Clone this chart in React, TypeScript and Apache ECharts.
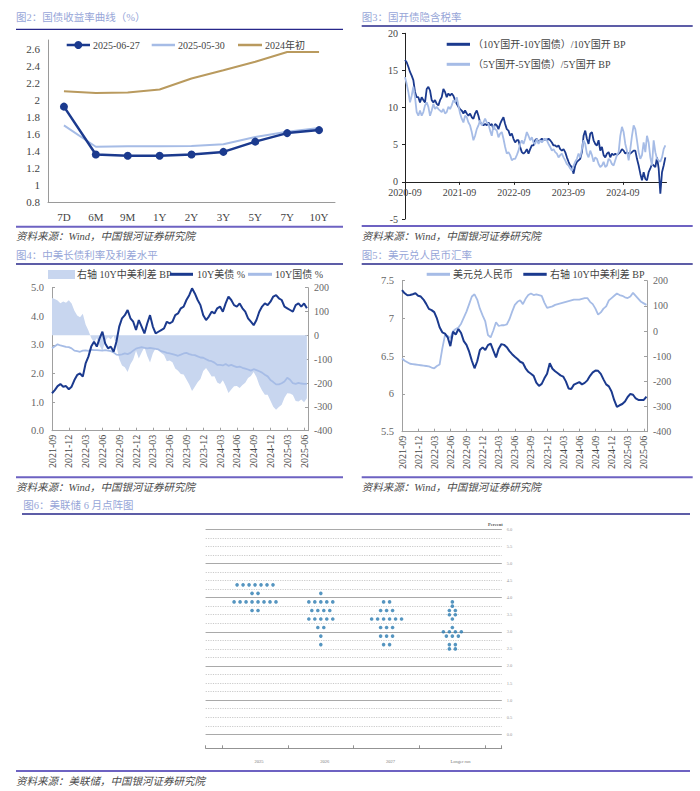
import { useEffect, useRef } from "react";
import * as echarts from "echarts";

// ---------- Panel 1: yield curve ----------
const CURVE_TENORS = ["7D", "6M", "9M", "1Y", "2Y", "3Y", "5Y", "7Y", "10Y"];
const CURVE_20250627 = [1.92, 1.36, 1.345, 1.345, 1.36, 1.39, 1.51, 1.61, 1.645];
const CURVE_20250530 = [1.7, 1.45, 1.455, 1.455, 1.46, 1.48, 1.565, 1.625, 1.67];
const CURVE_2024START = [2.1, 2.08, 2.085, 2.12, 2.25, 2.345, 2.445, 2.56, 2.56];
const CURVE_Y_TICKS = [0.8, 1, 1.2, 1.4, 1.6, 1.8, 2, 2.2, 2.4, 2.6];

// ---------- Panel 2: implied tax rate (start 2020-09, one sample every P3_STEP months) ----------
const P3_STEP = 0.3676;
const P3_TICK_MONTHS = [0, 12, 24, 36, 48];
const P3_10Y = [
  16.4, 16.1, 15.5, 14.8, 14.3, 13.7, 12.1, 11.4, 11.4, 10.7,
  11.4, 11.0, 10.7, 12.5, 12.8, 12.3, 11.0, 10.7, 11.0, 10.5,
  10.3, 11.0, 11.4, 12.5, 12.1, 11.4, 11.9, 11.6, 11.9, 11.6,
  11.0, 10.5, 10.1, 9.8, 9.6, 9.2, 9.6, 9.2, 8.9, 9.2,
  8.7, 8.5, 9.2, 9.6, 8.9, 8.0, 7.8, 7.6, 7.8, 7.6,
  8.0, 7.6, 7.8, 7.1, 7.8, 7.6, 7.1, 7.8, 8.3, 8.7,
  7.8, 7.1, 6.9, 6.2, 6.5, 5.8, 5.3, 5.6, 5.6, 4.7,
  4.0, 3.8, 4.0, 4.4, 3.8, 4.4, 4.9, 4.9, 5.6, 5.8,
  5.3, 5.6, 5.8, 5.6, 5.8, 5.6, 5.8, 5.6, 5.3, 4.9,
  4.9, 4.7, 4.9, 4.4, 4.2, 4.4, 4.0, 3.3, 2.7, 2.2,
  2.0, 1.1, 2.2, 2.7, 2.9, 3.1, 4.0, 6.2, 6.9, 5.8,
  5.1, 6.5, 6.7, 5.6, 5.1, 4.9, 5.6, 4.2, 4.7, 3.6,
  3.3, 3.8, 4.0, 3.3, 3.8, 3.6, 3.8, 3.6, 3.8, 4.0,
  4.4, 4.2, 3.8, 4.0, 3.8, 3.8, 4.0, 4.2, 4.2, 3.1,
  2.2, 1.1, 0.2, 1.3, 0.4, 0.2, 1.3, 1.8, 2.4, 2.2,
  2.0, 3.3, 1.8, -1.6, 1.3, 2.2, 3.3,
];
const P3_5Y = [
  14.1, 13.2, 12.1, 10.7, 11.6, 12.8, 11.4, 9.4, 8.9, 9.6,
  8.9, 9.4, 10.3, 10.7, 10.1, 8.9, 9.6, 10.5, 9.8, 10.1,
  9.8, 9.6, 9.4, 9.8, 9.2, 9.4, 10.1, 9.8, 10.3, 11.0,
  10.7, 11.4, 10.3, 9.2, 8.5, 8.0, 8.9, 8.7, 8.0, 7.6,
  6.7, 5.6, 6.2, 7.1, 7.6, 8.3, 7.6, 8.0, 8.5, 8.0,
  7.8, 6.9, 6.2, 7.6, 7.1, 6.9, 6.0, 6.5, 6.7, 5.8,
  4.7, 3.8, 4.0, 3.6, 2.9, 3.1, 3.1, 3.6, 4.2, 5.1,
  5.6, 5.1, 5.8, 6.7, 6.2, 5.6, 6.0, 5.3, 5.1, 5.8,
  5.1, 5.6, 5.3, 5.6, 5.8, 5.6, 5.1, 4.7, 4.2, 4.4,
  4.0, 3.8, 3.3, 3.6, 3.8, 3.3, 2.9, 2.4, 2.2, 1.8,
  1.5, 2.2, 2.7, 3.1, 3.8, 3.3, 4.4, 5.6, 5.1, 3.8,
  3.3, 4.2, 3.6, 2.7, 3.3, 3.1, 2.4, 2.0, 2.2, 2.7,
  2.0, 2.2, 3.1, 2.9, 2.4, 2.2, 2.9, 3.6, 4.0, 6.2,
  7.4, 6.7, 5.1, 4.2, 2.9, 4.4, 6.2, 7.6, 7.1, 5.6,
  4.0, 3.1, 3.6, 5.3, 4.0, 6.2, 5.3, 3.3, 2.2, 5.6,
  4.0, 3.1, 2.9, 2.7, 3.3, 4.4, 4.9,
];

// ---------- Panels 3 & 4: start 2021-09, one sample every half month ----------
const HALF_MONTH = 0.5;
const QUARTER_TICKS = [0, 3, 6, 9, 12, 15, 18, 21, 24, 27, 30, 33, 36, 39, 42, 45];
const P4_US10Y = [
  1.31, 1.42, 1.56, 1.63, 1.54, 1.56, 1.45, 1.54, 1.77, 1.95,
  2.0, 1.89, 2.35, 2.59, 2.94, 3.11, 2.94, 3.23, 3.46, 3.05,
  2.88, 2.94, 2.76, 3.11, 3.64, 3.93, 4.04, 4.22, 3.93, 3.81,
  3.52, 3.87, 3.64, 3.4, 3.75, 4.04, 3.64, 3.4, 3.46, 3.52,
  3.58, 3.81, 3.75, 3.81, 4.04, 4.1, 4.28, 4.34, 4.57, 4.74,
  4.98, 4.8, 4.57, 4.39, 4.04, 3.87, 3.99, 4.16, 4.1, 4.28,
  4.34, 4.16, 4.45, 4.69, 4.57, 4.39, 4.34, 4.45, 4.28, 4.16,
  3.93, 3.81, 3.69, 3.87, 4.16, 4.34, 4.45, 4.39, 4.51, 4.69,
  4.74, 4.63, 4.57, 4.34, 4.28, 4.22, 4.16, 4.39, 4.45, 4.34,
  4.45, 4.28,
];
const P4_CN10Y = [
  2.88, 2.95, 3.02, 2.98, 2.96, 2.93, 2.92, 2.88, 2.8, 2.78,
  2.76, 2.8, 2.81, 2.79, 2.83, 2.82, 2.82, 2.81, 2.8, 2.82,
  2.8, 2.78, 2.74, 2.66, 2.65, 2.67, 2.7, 2.68, 2.72, 2.8,
  2.87, 2.9, 2.92, 2.9, 2.88, 2.9, 2.88, 2.86, 2.84, 2.78,
  2.76, 2.72, 2.7, 2.68, 2.65, 2.62, 2.66, 2.7, 2.72, 2.68,
  2.65, 2.64, 2.6, 2.56, 2.55, 2.5, 2.45, 2.43, 2.38, 2.3,
  2.3, 2.28, 2.33, 2.27, 2.3, 2.26, 2.22, 2.24, 2.2, 2.17,
  2.14, 2.1, 2.15, 2.12, 2.08, 2.03, 1.96, 1.9, 1.77, 1.7,
  1.62, 1.62, 1.66, 1.72, 1.85, 1.78, 1.66, 1.64, 1.67, 1.65,
  1.64, 1.64,
];
const P4_SPREAD_BP = [
  157, 153, 146, 135, 142, 137, 147, 134, 103, 83,
  76, 91, 46, 20, -11, -29, -12, -42, -66, -23,
  -8, -16, -2, -45, -99, -126, -134, -154, -121, -101,
  -65, -97, -72, -50, -87, -114, -76, -54, -62, -74,
  -82, -109, -105, -113, -139, -148, -162, -164, -185, -206,
  -233, -216, -197, -183, -149, -137, -154, -173, -172, -198,
  -204, -188, -212, -242, -227, -213, -212, -221, -208, -199,
  -179, -171, -154, -175, -208, -231, -249, -249, -274, -299,
  -312, -301, -291, -262, -243, -244, -250, -275, -278, -269,
  -281, -264,
];
const P5_USDCNY = [
  6.47, 6.44, 6.42, 6.4, 6.395, 6.39, 6.385, 6.38, 6.375, 6.37,
  6.365, 6.35, 6.34, 6.37, 6.39, 6.6, 6.78, 6.77, 6.74, 6.83,
  6.86, 6.88, 6.93, 7.01, 7.09, 7.19, 7.29, 7.32, 7.25, 7.13,
  7.04, 6.96, 6.78, 6.75, 6.84, 6.95, 6.9, 6.91, 6.91, 6.92,
  6.99, 7.09, 7.18, 7.22, 7.24, 7.19, 7.26, 7.31, 7.33, 7.31,
  7.32, 7.31, 7.3, 7.21, 7.14, 7.15, 7.16, 7.18, 7.19, 7.2,
  7.21, 7.22, 7.23, 7.24, 7.25, 7.25, 7.25, 7.26, 7.27, 7.27,
  7.22, 7.19, 7.13, 7.05, 7.08, 7.13, 7.16, 7.24, 7.27, 7.3,
  7.33, 7.31, 7.3, 7.28, 7.27, 7.29, 7.34, 7.3, 7.26, 7.22,
  7.2, 7.18,
];
const P5_SPREAD_BP = [
  163, 150, 142, 143, 146, 150, 140, 137, 125, 108,
  88, 83, 75, 50, 15, -5, -10, -25, -60, -3,
  -14, 8, -8, -40, -55, -82, -118, -148, -120, -75,
  -65, -75, -56, -50, -78, -105, -70, -52, -55, -64,
  -80, -92, -102, -111, -122, -127, -148, -162, -170, -178,
  -205, -218, -210, -188, -170, -128, -150, -160, -168, -176,
  -181, -200, -228, -230, -213, -208, -203, -212, -206, -196,
  -178, -164, -157, -158, -170, -192, -212, -220, -240, -275,
  -301, -295, -290, -280, -262, -250, -253, -268, -274, -274,
  -274, -261,
];

// ---------- Panel 6: Fed dot plot, June 2025 ([rate, number of dots]) ----------
const DOT_COLUMNS = ["2025", "2026", "2027", "Longer run"];
const DOTS_2025 = [[4.375, 7], [4.125, 2], [3.875, 8], [3.625, 2]];
const DOTS_2026 = [[4.125, 1], [3.875, 5], [3.625, 4], [3.375, 5], [3.125, 2], [2.875, 1], [2.625, 1]];
const DOTS_2027 = [[3.875, 2], [3.625, 3], [3.375, 6], [3.125, 3], [2.875, 3], [2.625, 2]];
const DOTS_LONGER = [[3.875, 1], [3.75, 1], [3.625, 2], [3.5, 2], [3.375, 1], [3.125, 1], [3.0, 4], [2.875, 3], [2.625, 2], [2.5, 2]];
const DOT_Y_TICKS = [0, 0.5, 1, 1.5, 2, 2.5, 3, 3.5, 4, 4.5, 5, 5.5, 6];

// ---------- styles ----------
const DARK = "#1b3a8e";
const LIGHT = "#a6bce6";
const TAN = "#b99a5e";
const AREA = "#c8d6ef";
const DOT = "#2a7bb0";
const TITLE_C = "#97a6d8";
const RULE_TOP = "#27278a";
const RULE_BOTTOM = "#6d62c2";
const SERIF = '"Liberation Serif", "Noto Sans CJK SC", serif';

function monthLabel(startYear: number, startMonth: number) {
  return (m: number) => {
    const t = startYear * 12 + (startMonth - 1) + Math.round(m);
    const y = Math.floor(t / 12);
    const mo = (t % 12) + 1;
    return `${y}-${mo < 10 ? "0" + mo : mo}`;
  };
}

function txt(text: string, x: number, y: number, size: number, fill: string, extra: any = {}) {
  return {
    type: "text",
    x,
    y,
    silent: true,
    style: { text, fill, fontSize: size, fontFamily: SERIF, verticalAlign: "middle", align: "left", ...extra },
  };
}
function hline(x1: number, x2: number, y: number, stroke: string, w: number) {
  return { type: "line", silent: true, shape: { x1, y1: y, x2, y2: y }, style: { stroke, lineWidth: w } };
}

export default function App() {
  const ref = useRef<HTMLDivElement>(null);
  useEffect(() => {
    if (!ref.current) return;
    const chart = echarts.init(ref.current, null, { renderer: "svg" });

    const step = (arr: number[], s: number) => arr.map((v, i) => [i * s, v]);
    const dotData: number[][] = [];
    const DOT_SPACING = 0.091;
    [DOTS_2025, DOTS_2026, DOTS_2027, DOTS_LONGER].forEach((col, c) => {
      const center = 0.75 + c;
      col.forEach(([rate, n]) => {
        for (let j = 0; j < n; j++) dotData.push([center + (j - (n - 1) / 2) * DOT_SPACING, rate]);
      });
    });

    const lbl3 = monthLabel(2020, 9);
    const lbl45 = monthLabel(2021, 9);
    const axisText = { fontFamily: SERIF, color: "#444" };

    // panel 2 grid: y from -5 to 20; x axis drawn on the zero line
    const g1Top = 33.3;
    const g1Height = 185.7;
    const zeroOffset = -(g1Height * 5) / 25;

    const option: any = {
      animation: false,
      backgroundColor: "#ffffff",
      grid: [
        { left: 48, top: 40, width: 287, height: 162.3, outerBoundsMode: "none" },
        { left: 405, top: g1Top, width: 261.5, height: g1Height, outerBoundsMode: "none" },
        { left: 52, top: 287.7, width: 256, height: 143, outerBoundsMode: "none" },
        { left: 402, top: 280.7, width: 245, height: 151, outerBoundsMode: "none" },
        { left: 205.7, top: 529.3, width: 296, height: 205, outerBoundsMode: "none" },
      ],
      xAxis: [
        {
          gridIndex: 0, type: "category", data: CURVE_TENORS, boundaryGap: true,
          axisLine: { lineStyle: { color: "#9a9a9a" } },
          axisTick: { inside: true, length: 3, lineStyle: { color: "#9a9a9a" } },
          axisLabel: { ...axisText, fontSize: 11, margin: 9 },
        },
        {
          gridIndex: 1, type: "value", min: 0, max: 57.6, offset: zeroOffset,
          axisLine: { onZero: false, lineStyle: { color: "#222" } },
          axisTick: { customValues: P3_TICK_MONTHS, length: 3, lineStyle: { color: "#222" } },
          axisLabel: { ...axisText, customValues: P3_TICK_MONTHS, formatter: lbl3, fontSize: 10, margin: 6 },
          splitLine: { show: false },
        },
        {
          gridIndex: 2, type: "value", min: 0, max: 45.7,
          axisLine: { onZero: false, lineStyle: { color: "#a0a0a0" } },
          axisTick: { customValues: QUARTER_TICKS, inside: true, length: 3, lineStyle: { color: "#a0a0a0" } },
          axisLabel: { ...axisText, customValues: QUARTER_TICKS, formatter: lbl45, rotate: 90, fontSize: 10, margin: 4 },
          splitLine: { show: false },
        },
        {
          gridIndex: 3, type: "value", min: 0, max: 45.6,
          axisLine: { onZero: false, lineStyle: { color: "#a0a0a0" } },
          axisTick: { customValues: QUARTER_TICKS, inside: true, length: 3, lineStyle: { color: "#a0a0a0" } },
          axisLabel: { ...axisText, customValues: QUARTER_TICKS, formatter: lbl45, rotate: 90, fontSize: 10, margin: 4 },
          splitLine: { show: false },
        },
        {
          gridIndex: 4, type: "value", min: 0, max: 4.5, offset: 14,
          axisLine: { onZero: false, lineStyle: { color: "#777", width: 0.8 } },
          axisTick: { customValues: [0, 0.25, 1.25, 2.25, 3.25, 4.25, 4.5], inside: true, length: 3, lineStyle: { color: "#777", width: 0.8 } },
          axisLabel: {
            customValues: [0.74, 1.74, 2.74, 3.72],
            formatter: (v: number) => DOT_COLUMNS[Math.floor(v - 0.25)] ?? "",
            fontSize: 4.5, color: "#777", fontFamily: SERIF, margin: 11, align: "left",
          },
          splitLine: { show: false },
        },
      ],
      yAxis: [
        {
          gridIndex: 0, type: "value", min: 0.8, max: 2.7,
          axisLine: { show: true, lineStyle: { color: "#9a9a9a" } },
          axisTick: { show: false },
          axisLabel: { ...axisText, customValues: CURVE_Y_TICKS, fontSize: 11, margin: 8 },
          splitLine: { show: false },
        },
        {
          gridIndex: 1, type: "value", min: -5, max: 20, interval: 5,
          axisLine: { show: true, onZero: false, lineStyle: { color: "#222" } },
          axisTick: { show: true, length: 3, lineStyle: { color: "#222" } },
          axisLabel: { ...axisText, fontSize: 10, margin: 7 },
          splitLine: { show: false },
        },
        {
          gridIndex: 2, type: "value", min: 0, max: 5, interval: 1,
          axisLine: { show: true, lineStyle: { color: "#a0a0a0" } },
          axisTick: { show: true, inside: true, length: 3, lineStyle: { color: "#a0a0a0" } },
          axisLabel: { ...axisText, color: "#666", fontSize: 10.5, margin: 8, formatter: (v: number) => v.toFixed(1) },
          splitLine: { show: false },
        },
        {
          gridIndex: 2, type: "value", position: "right", min: -400, max: 200, interval: 100,
          axisLine: { show: true, lineStyle: { color: "#a0a0a0" } },
          axisTick: { show: true, inside: true, length: 3, lineStyle: { color: "#a0a0a0" } },
          axisLabel: { ...axisText, color: "#666", fontSize: 10, margin: 6 },
          splitLine: { show: false },
        },
        {
          gridIndex: 3, type: "value", min: 5.5, max: 7.5, interval: 0.5,
          axisLine: { show: true, lineStyle: { color: "#a0a0a0" } },
          axisTick: { show: true, inside: true, length: 3, lineStyle: { color: "#a0a0a0" } },
          axisLabel: { ...axisText, color: "#666", fontSize: 10.5, margin: 8 },
          splitLine: { show: false },
        },
        {
          gridIndex: 3, type: "value", position: "right", min: -400, max: 200, interval: 100,
          axisLine: { show: true, lineStyle: { color: "#a0a0a0" } },
          axisTick: { show: true, inside: true, length: 3, lineStyle: { color: "#a0a0a0" } },
          axisLabel: { ...axisText, color: "#666", fontSize: 10, margin: 6 },
          splitLine: { show: false },
        },
        {
          gridIndex: 4, type: "value", position: "right", min: 0, max: 6, interval: 0.25,
          axisLine: { show: false }, axisTick: { show: false },
          axisLabel: { customValues: DOT_Y_TICKS, formatter: (v: number) => v.toFixed(1), fontSize: 4.5, color: "#999", fontFamily: SERIF, margin: 5 },
          splitLine: { show: true, lineStyle: { color: "#bdbdbd", width: 0.8, type: [1.2, 1.2] } },
        },
        {
          gridIndex: 4, type: "value", position: "right", min: 0, max: 6, interval: 1,
          axisLine: { show: false }, axisTick: { show: false }, axisLabel: { show: false },
          splitLine: { show: true, lineStyle: { color: "#a9a9a9", width: 1.1 } },
        },
      ],
      series: [
        {
          type: "line", name: "2024年初", xAxisIndex: 0, yAxisIndex: 0, data: CURVE_2024START,
          symbol: "none", lineStyle: { color: TAN, width: 2 },
        },
        {
          type: "line", name: "2025-05-30", xAxisIndex: 0, yAxisIndex: 0, data: CURVE_20250530,
          symbol: "none", lineStyle: { color: LIGHT, width: 2 },
        },
        {
          type: "line", name: "2025-06-27", xAxisIndex: 0, yAxisIndex: 0, data: CURVE_20250627,
          symbol: "circle", symbolSize: 8, itemStyle: { color: DARK }, lineStyle: { color: DARK, width: 2.5 },
        },
        {
          type: "line", name: "（10Y国开-10Y国债）/10Y国开 BP", xAxisIndex: 1, yAxisIndex: 1,
          data: step(P3_10Y, P3_STEP), symbol: "none", lineStyle: { color: DARK, width: 1.8 },
        },
        {
          type: "line", name: "（5Y国开-5Y国债）/5Y国开 BP", xAxisIndex: 1, yAxisIndex: 1,
          data: step(P3_5Y, P3_STEP), symbol: "none", lineStyle: { color: LIGHT, width: 1.8 },
        },
        {
          type: "line", name: "右轴 10Y中美利差 BP", xAxisIndex: 2, yAxisIndex: 3,
          data: step(P4_SPREAD_BP, HALF_MONTH), symbol: "none",
          lineStyle: { width: 0 }, itemStyle: { color: AREA }, areaStyle: { color: AREA, opacity: 1 },
        },
        {
          type: "line", name: "10Y国债 %", xAxisIndex: 2, yAxisIndex: 2,
          data: step(P4_CN10Y, HALF_MONTH), symbol: "none", lineStyle: { color: LIGHT, width: 1.8 },
        },
        {
          type: "line", name: "10Y美债 %", xAxisIndex: 2, yAxisIndex: 2,
          data: step(P4_US10Y, HALF_MONTH), symbol: "none", lineStyle: { color: DARK, width: 2 },
        },
        {
          type: "line", name: "美元兑人民币", xAxisIndex: 3, yAxisIndex: 4,
          data: step(P5_USDCNY, HALF_MONTH), symbol: "none", lineStyle: { color: LIGHT, width: 1.8 },
        },
        {
          type: "line", name: "右轴 10Y中美利差 BP ", xAxisIndex: 3, yAxisIndex: 5,
          data: step(P5_SPREAD_BP, HALF_MONTH), symbol: "none", lineStyle: { color: DARK, width: 2 },
        },
        {
          type: "scatter", name: "dots", xAxisIndex: 4, yAxisIndex: 6, data: dotData, clip: false,
          symbol: "circle", symbolSize: 3.6, itemStyle: { color: DOT },
          markLine: {
            silent: true, symbol: "none", label: { show: false },
            lineStyle: { color: "#7a7a7a", width: 0.9, type: [1, 1] },
            data: [[{ coord: [3.25, -0.41] }, { coord: [3.25, 6.08] }]],
          },
        },
      ],
      graphic: [
        // titles
        txt("图2：国债收益率曲线（%）", 16, 17.3, 10.5, TITLE_C),
        txt("图3：国开债隐含税率", 361.7, 17.3, 10.5, TITLE_C),
        txt("图4：中美长债利率及利差水平", 16, 255, 10.5, TITLE_C),
        txt("图5：美元兑人民币汇率", 361.7, 255, 10.5, TITLE_C),
        txt("图6：美联储 6 月点阵图", 23.3, 505.7, 10.5, TITLE_C),
        hline(16, 343, 29.3, RULE_TOP, 1.3),
        hline(361.7, 692.7, 26, RULE_TOP, 1.3),
        hline(16, 343, 264, RULE_TOP, 1.3),
        hline(361.7, 692.7, 264, RULE_TOP, 1.3),
        hline(22, 690, 514, RULE_TOP, 1.3),
        // footers
        hline(16, 343, 226.7, RULE_BOTTOM, 2),
        hline(361.7, 692.7, 226, RULE_BOTTOM, 2),
        hline(16, 343, 477.3, RULE_BOTTOM, 2),
        hline(361.7, 692.7, 477.3, RULE_BOTTOM, 2),
        hline(16, 690, 771, RULE_BOTTOM, 2),
        txt("资料来源：Wind，中国银河证券研究院", 16, 236.7, 10.5, "#4a4a4a", { fontStyle: "italic" }),
        txt("资料来源：Wind，中国银河证券研究院", 361.7, 236.7, 10.5, "#4a4a4a", { fontStyle: "italic" }),
        txt("资料来源：Wind，中国银河证券研究院", 16, 487.3, 10.5, "#4a4a4a", { fontStyle: "italic" }),
        txt("资料来源：Wind，中国银河证券研究院", 361.7, 487.3, 10.5, "#4a4a4a", { fontStyle: "italic" }),
        txt("资料来源：美联储，中国银河证券研究院", 16, 781, 10.5, "#4a4a4a", { fontStyle: "italic" }),
        // legend panel 1
        hline(66.7, 90, 45, DARK, 2.5),
        { type: "circle", silent: true, shape: { cx: 78.3, cy: 45, r: 4 }, style: { fill: DARK } },
        txt("2025-06-27", 93, 45, 10, "#444"),
        hline(151.7, 175, 45, LIGHT, 2.5),
        txt("2025-05-30", 178, 45, 10, "#444"),
        hline(238, 262, 45, TAN, 2.5),
        txt("2024年初", 265, 45, 10, "#444"),
        // legend panel 2
        hline(446.7, 470, 44.3, DARK, 3),
        txt("（10Y国开-10Y国债）/10Y国开 BP", 473, 44.3, 10, "#444"),
        hline(446.7, 470, 64.3, LIGHT, 3),
        txt("（5Y国开-5Y国债）/5Y国开 BP", 473, 64.3, 10, "#444"),
        // legend panel 3
        { type: "rect", silent: true, shape: { x: 48, y: 270, width: 27, height: 9 }, style: { fill: AREA } },
        txt("右轴 10Y中美利差 BP", 77, 274.3, 10, "#444"),
        hline(170, 193, 274.3, DARK, 3),
        txt("10Y美债 %", 197, 274.3, 10, "#444"),
        hline(248, 272, 274.3, LIGHT, 3),
        txt("10Y国债 %", 275, 274.3, 10, "#444"),
        // legend panel 4
        hline(426.7, 450, 274.3, LIGHT, 3),
        txt("美元兑人民币", 453, 274.3, 10, "#444"),
        hline(523.3, 546.7, 274.3, DARK, 3),
        txt("右轴 10Y中美利差 BP", 550, 274.3, 10, "#444"),
        // dot plot caption
        txt("Percent", 488, 524.5, 4.5, "#555", { fontWeight: "bold" }),
      ],
    };
    chart.setOption(option);
    return () => chart.dispose();
  }, []);

  return (
    <div
      ref={ref}
      style={{ position: "absolute", left: 0, top: 0, width: 700, height: 791, background: "#fff" }}
    />
  );
}
